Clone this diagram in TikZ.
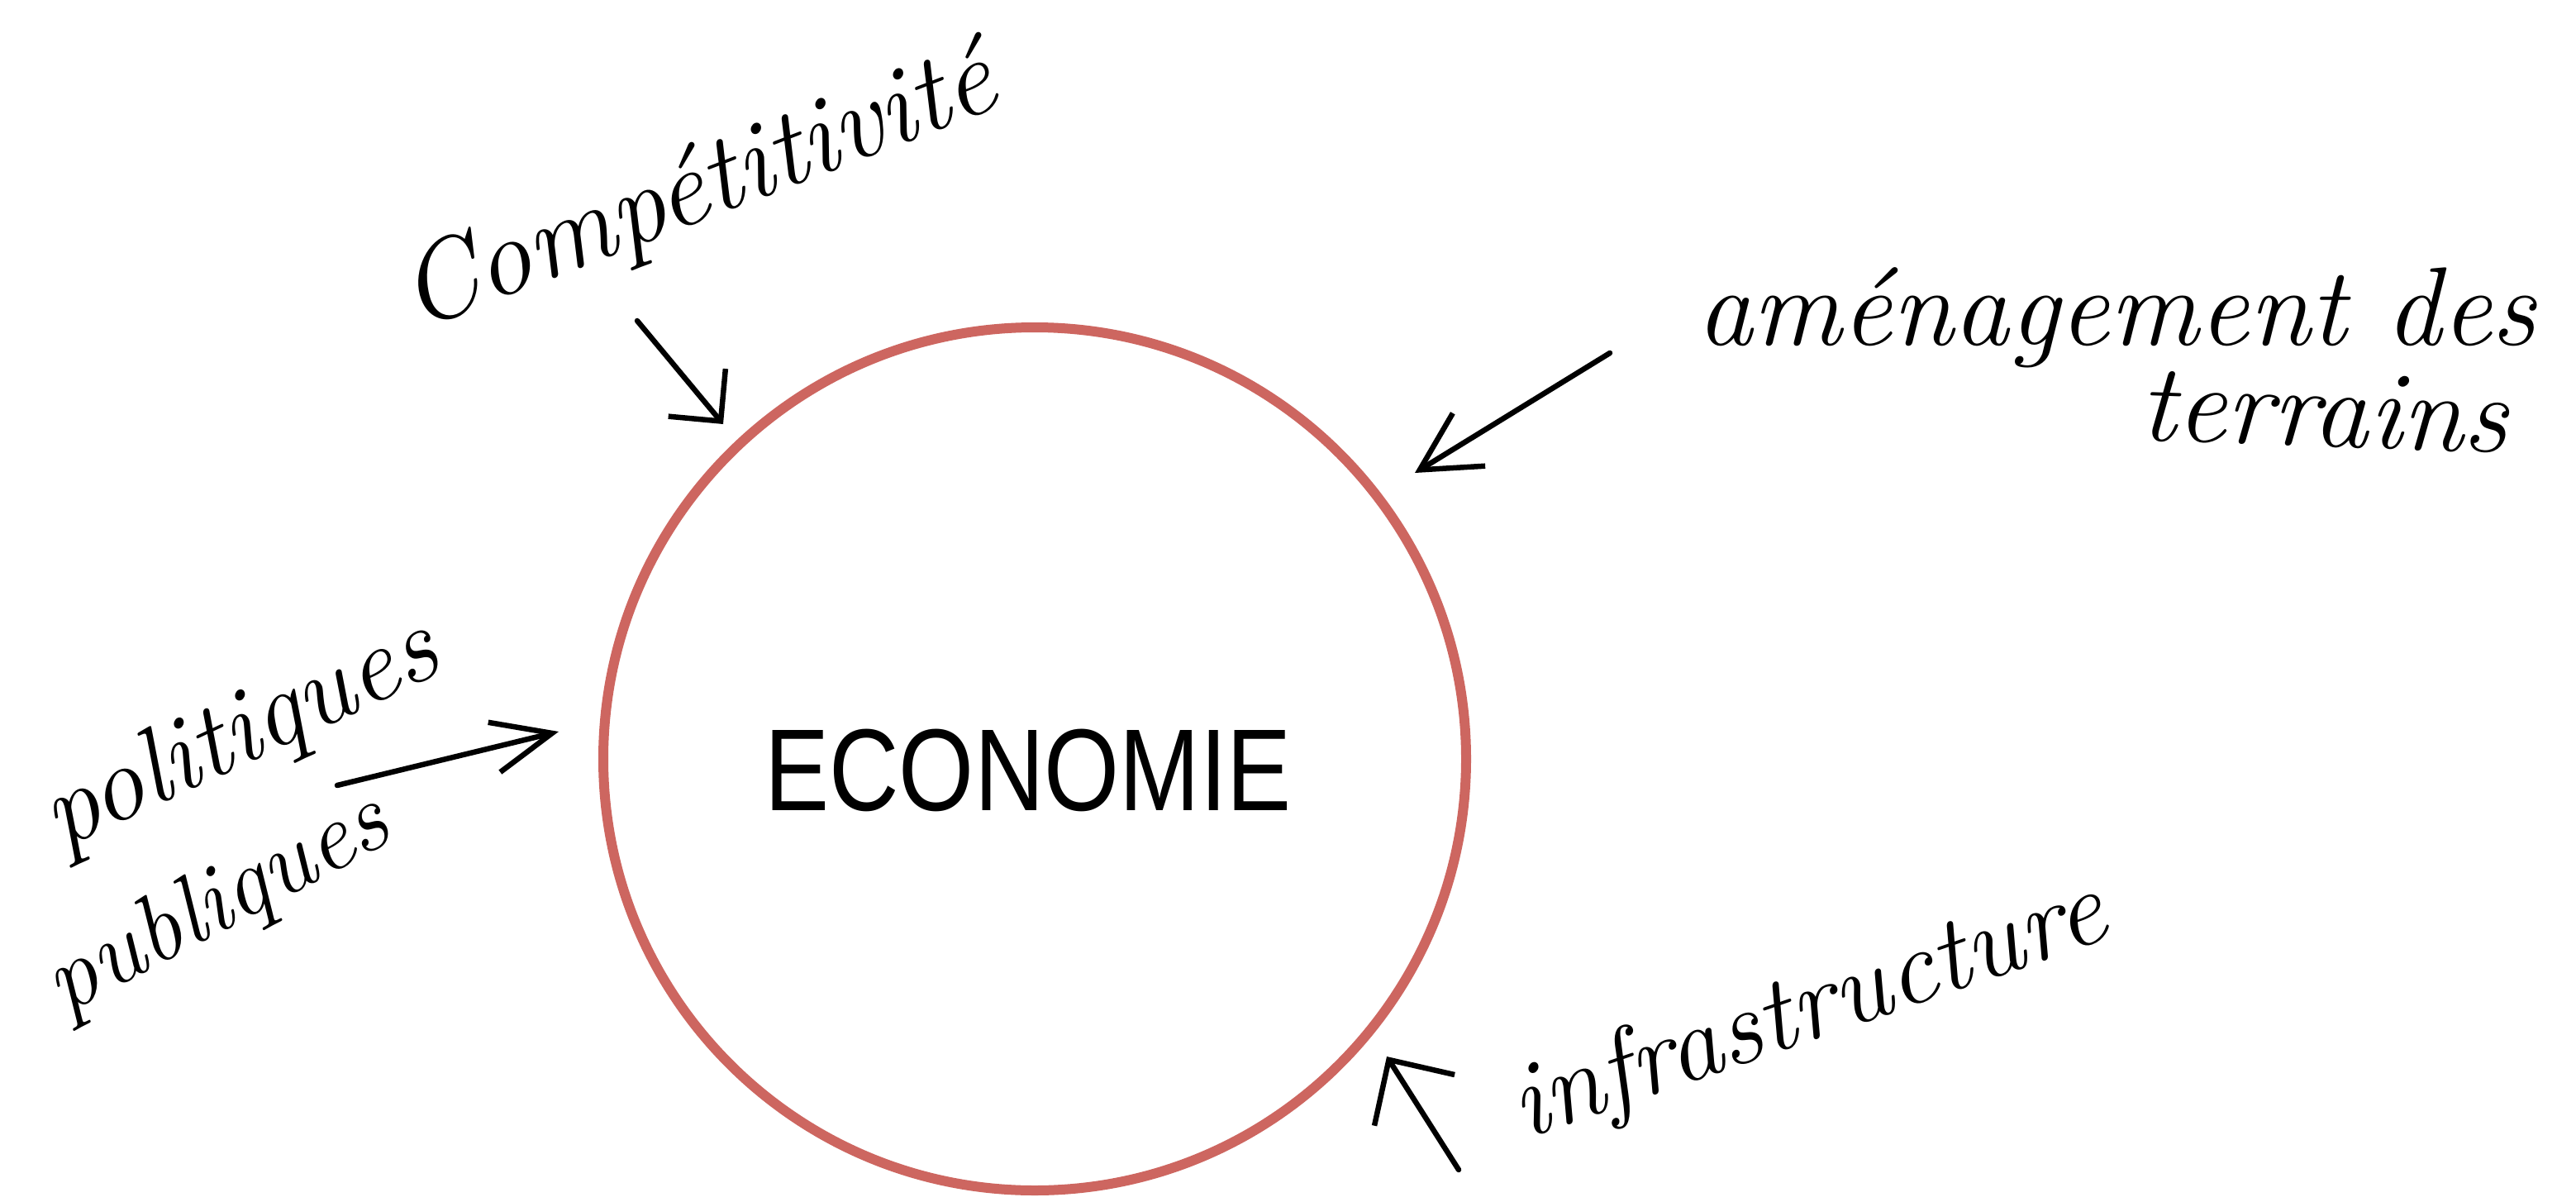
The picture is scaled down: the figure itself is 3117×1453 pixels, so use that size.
\documentclass[tikz,border=0pt]{standalone}
\usepackage{fontspec}
\newfontfamily\ecofont{Liberation Sans}
\usetikzlibrary{arrows.meta}
\definecolor{ringred}{RGB}{205,102,96}
\tikzset{
  hand/.style={font=\fontsize{#1}{#1}\selectfont\itshape, inner sep=0pt, anchor=base},
  harrow/.style 2 args={line width=6.5pt, line cap=round, line join=round,
    -{Straight Barb[length=#1, width=#2, line width=6.5pt]}},
  ring/.style={circle, draw=ringred, line width=12pt, minimum size=1044pt, inner sep=0pt}
}
\begin{document}
\begin{tikzpicture}[x=1pt,y=-1pt]
\useasboundingbox (0,0) rectangle (3117,1453);
% central circle
\node[ring] (eco) at (1252,918) {};
\node[font=\ecofont\fontsize{141}{141}\selectfont, xscale=0.83, inner sep=0pt] (ecotxt) at (1244,932) {ECONOMIE};
% labels
\node[hand=134, rotate=21] (comp) at (858,264) {Compétitivité};
\node[hand=135] (amen) at (2561,417) {aménagement des};
\node[hand=135, rotate=-2] (terr) at (2811,540) {terrains};
\node[hand=130, rotate=25] (poli) at (306,920) {politiques};
\node[hand=118, rotate=28] (publ) at (278,1122) {publiques};
\node[hand=130, rotate=19] (infra) at (2200,1256) {infrastructure};
% arrow end points
\coordinate (c1s) at (771,388);
\coordinate (c1e) at (875,513);
\coordinate (c2s) at (1948,427);
\coordinate (c2e) at (1712,572);
\coordinate (c3s) at (408,950);
\coordinate (c3e) at (676,885);
\coordinate (c4s) at (1765,1415);
\coordinate (c4e) at (1678,1278);
% arrows
\draw[harrow={45pt}{90pt}] (c1s) -- (c1e);
\draw[harrow={70pt}{75pt}] (c2s) -- (c2e);
\draw[harrow={72pt}{62pt}] (c3s) -- (c3e);
\draw[harrow={58pt}{115pt}] (c4s) -- (c4e);
\end{tikzpicture}
\end{document}
